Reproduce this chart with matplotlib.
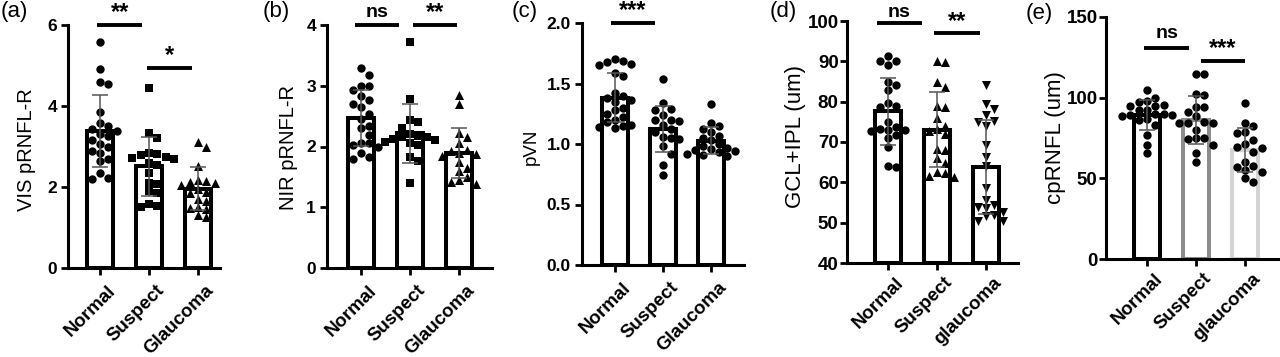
import matplotlib
matplotlib.use('Agg')
import matplotlib.pyplot as plt
import matplotlib.transforms as mtransforms
from matplotlib.ticker import FormatStrFormatter
import numpy as np

plt.rcParams['font.family'] = ['Liberation Sans', 'DejaVu Sans']

groups_abc = ['Normal', 'Suspect', 'Glaucoma']
groups_de = ['Normal', 'Suspect', 'glaucoma']

# (a) VIS pRNFL-R
vis_normal = [5.58, 4.92, 4.6, 4.55, 3.85, 3.57, 3.5, 3.42, 3.38, 3.3, 3.25, 3.15, 3.05, 3.0,
              2.9, 2.85, 2.7, 2.65, 2.35, 2.23, 2.2]
vis_suspect = [4.44, 3.33, 3.2, 2.85, 2.82, 2.78, 2.75, 2.72, 2.7, 2.6, 2.55, 2.35, 2.1, 2.08,
               1.9, 1.85, 1.58, 1.52, 1.5]
vis_glaucoma = [3.12, 3.0, 2.52, 2.17, 2.15, 2.12, 2.1, 2.05, 1.95, 1.88, 1.85, 1.7, 1.65, 1.5,
                1.48, 1.45, 1.3, 1.25]

# (b) NIR pRNFL-R
nir_normal = [3.29, 3.18, 3.0, 3.0, 2.7, 2.93, 2.83, 2.77, 2.65, 2.53, 2.45, 2.33, 2.3, 2.19,
              2.05, 2.05, 2.03, 2.0, 1.89, 1.83, 1.8]
nir_suspect = [3.72, 2.78, 2.43, 2.4, 2.3, 2.2, 2.18, 2.16, 2.15, 2.12, 2.1, 2.08, 2.05, 2.02,
               1.82, 1.76, 1.4]
nir_glaucoma = [2.85, 2.7, 2.23, 2.15, 2.05, 1.95, 1.92, 1.9, 1.88, 1.85, 1.75, 1.65, 1.6, 1.5,
                1.45, 1.42, 1.38]

# (c) pVN
pvn_normal = [1.70, 1.69, 1.68, 1.66, 1.65, 1.59, 1.56, 1.3, 1.35, 1.42, 1.4, 1.38, 1.36, 1.28,
              1.25, 1.22, 1.2, 1.18, 1.16, 1.15, 1.14, 1.13]
pvn_suspect = [1.54, 1.34, 1.29, 1.28, 1.24, 1.2, 1.2, 1.19, 1.16, 1.12, 1.1, 1.06, 1.05, 1.04,
               0.98, 0.92, 0.83, 0.74]
pvn_glaucoma = [1.33, 1.17, 1.15, 1.12, 1.1, 1.07, 1.05, 1.03, 1.0, 0.98, 0.97, 0.96, 0.95, 0.94,
                0.93, 0.92, 0.91, 0.9]

# (d) GCL+IPL (um)
gcl_normal = [91.2, 90.2, 90.0, 89.0, 85.0, 84.1, 82.9, 79.7, 78.9, 78.6, 75.0, 73.8, 73.2, 73.0,
              72.9, 72.8, 71.7, 70.9, 68.8, 64.0, 63.8]
gcl_suspect = [90.0, 89.8, 85.0, 83.7, 79.0, 78.8, 75.9, 74.0, 73.2, 72.8, 72.0, 68.2, 67.9, 66.0,
               64.7, 62.6, 62.4, 61.5, 61.3]
gcl_glaucoma = [84.2, 79.5, 78.2, 76.7, 75.2, 74.9, 74.0, 69.3, 66.4, 64.0, 58.5, 55.6, 54.4, 53.8,
                53.6, 52.6, 51.8, 51.6, 50.5, 50.3]

# (e) cpRNFL (um)
rnfl_normal = [104.5, 100.0, 97.8, 97.2, 95.2, 95.0, 94.6, 92.5, 92.2, 90.0, 89.6, 89.3, 89.0, 88.8,
               86.5, 86.0, 83.0, 77.0, 70.8, 65.5]
rnfl_suspect = [114.8, 114.5, 102.0, 101.5, 94.5, 94.2, 91.3, 88.7, 84.8, 84.6, 84.4, 84.2, 80.0,
                75.0, 74.8, 74.6, 70.7, 65.5, 60.3]
rnfl_glaucoma = [96.5, 84.5, 82.5, 78.5, 78.0, 73.8, 71.3, 69.4, 69.0, 66.5, 60.3, 57.4, 57.0, 55.2,
                 53.8, 50.2, 47.5]

W, H = 1280, 357

panels = [
    dict(letter='(a)', letter_xy=(1, 1), ylabel='VIS pRNFL-R', groups=groups_abc,
         data=[vis_normal, vis_suspect, vis_glaucoma], markers=['o', 's', '^'],
         ylim=(0, 6), yticks=[0, 2, 4, 6], fmt='%d', box=(68, 220, 25, 268), xlim=(-0.653, 2.449),
         tick_fs=12.5, label_fs=14.5, label_xy=(27, 150), pad=3,
         sig=[('**', -0.06, 0.86, 6.0, 4), ('*', 0.96, 1.88, 4.95, 4)], edges=['k', 'k', 'k']),
    dict(letter='(b)', letter_xy=(263, 1), ylabel='NIR pRNFL-R', groups=groups_abc,
         data=[nir_normal, nir_suspect, nir_glaucoma], markers=['o', 's', '^'],
         ylim=(0, 4), yticks=[0, 1, 2, 3, 4], fmt='%d', box=(327, 492, 25, 268), xlim=(-0.694, 2.673),
         tick_fs=12.5, label_fs=14.5, label_xy=(288, 147), pad=3,
         sig=[('ns', -0.12, 0.78, 4.0, 6), ('**', 1.06, 1.96, 4.0, 4)], edges=['k', 'k', 'k']),
    dict(letter='(c)', letter_xy=(512, 1), ylabel='pVN', groups=groups_abc,
         data=[pvn_normal, pvn_suspect, pvn_glaucoma], markers=['o', 'o', 'o'],
         ylim=(0, 2), yticks=[0, 0.5, 1.0, 1.5, 2.0], fmt='%.1f', box=(582, 744, 23, 265),
         xlim=(-0.6875, 2.6875), tick_fs=12.5, label_fs=13.5, label_xy=(531, 147), pad=3,
         sig=[('***', -0.08, 0.83, 2.0, 4)], edges=['k', 'k', 'k']),
    dict(letter='(d)', letter_xy=(770, 1), ylabel='GCL+IPL (um)', groups=groups_de,
         data=[gcl_normal, gcl_suspect, gcl_glaucoma], markers=['o', '^', 'v'],
         ylim=(40, 100), yticks=[40, 50, 60, 70, 80, 90, 100], fmt='%d', box=(847, 1018, 21, 263),
         xlim=(-0.837, 2.653), tick_fs=13.5, label_fs=16, label_xy=(795, 137), pad=1,
         sig=[('ns', -0.23, 0.69, 99.4, 4.5), ('**', 0.94, 1.88, 97.0, 4)], edges=['k', 'k', 'k']),
    dict(letter='(e)', letter_xy=(1026, 3), ylabel='cpRNFL (um)', groups=groups_de,
         data=[rnfl_normal, rnfl_suspect, rnfl_glaucoma], markers=['o', 'o', 'o'],
         ylim=(0, 150), yticks=[0, 50, 100, 150], fmt='%d', box=(1106, 1278, 17, 259),
         xlim=(-0.837, 2.673), tick_fs=13.5, label_fs=16, label_xy=(1056, 138), pad=1,
         sig=[('ns', -0.06, 0.86, 131, 7), ('***', 1.1, 2.0, 123, 4)],
         edges=['k', '#8c8c8c', '#d4d4d4']),
]

marker_size = {'o': 36, 's': 30, '^': 42, 'v': 42}


def swarm(values, ypx_per_unit, xpx_per_unit, step=0.17, sep=8.0):
    # simple beeswarm: place each point at the nearest free slot
    values = np.asarray(values)
    offs = np.zeros(len(values))
    placed = []
    for i in np.argsort(values)[::-1]:
        ypx = values[i] * ypx_per_unit
        for k in [0, 1, -1, 2, -2, 3, -3]:
            x = k * step
            if all(((x - px) * xpx_per_unit) ** 2 + (ypx - py) ** 2 >= sep ** 2 for px, py in placed):
                break
        placed.append((x, ypx))
        offs[i] = x
    return offs


fig = plt.figure(figsize=(12.8, 3.57), dpi=100)

for p in panels:
    l, r, t, b = p['box']
    ax = fig.add_axes([l / W, 1 - b / H, (r - l) / W, (b - t) / H])
    ax.set_xlim(p['xlim'])
    ax.set_ylim(p['ylim'])
    y0 = p['ylim'][0]
    ypx = (b - t) / (p['ylim'][1] - p['ylim'][0])
    xpx = (r - l) / (p['xlim'][1] - p['xlim'][0])

    for i, vals in enumerate(p['data']):
        v = np.asarray(vals)
        m, s = v.mean(), v.std(ddof=1)
        ax.bar(i, m - y0, bottom=y0, width=0.53, color='white', edgecolor=p['edges'][i],
               linewidth=2.9, zorder=1)
        offs = swarm(v, ypx, xpx)
        mk = p['markers'][i]
        ax.scatter(i + offs, v, marker=mk, s=marker_size[mk], c='black', linewidths=0, zorder=3)
        ax.errorbar(i, m, yerr=s, color='#555555', lw=1.1, capsize=6, capthick=1.1, zorder=4)

    for txt, x0, x1, yy, off in p['sig']:
        ax.plot([x0, x1], [yy, yy], color='black', lw=2.8, solid_capstyle='butt', clip_on=False)
        star = '*' in txt
        ax.annotate(txt, xy=((x0 + x1) / 2, yy), xytext=(0, off),
                    textcoords='offset points', ha='center', va='baseline',
                    fontsize=17 if star else 14, fontweight='bold', annotation_clip=False)

    for side in ['top', 'right']:
        ax.spines[side].set_visible(False)
    for side in ['left', 'bottom']:
        ax.spines[side].set_linewidth(2.2)
    ax.tick_params(direction='out', width=2, length=5, pad=p['pad'])
    ax.set_yticks(p['yticks'])
    ax.yaxis.set_major_formatter(FormatStrFormatter(p['fmt']))
    for lbl in ax.get_yticklabels():
        lbl.set_fontsize(p['tick_fs'])
        lbl.set_fontweight('bold')

    ax.set_xticks([0, 1, 2])
    ax.set_xticklabels(p['groups'], rotation=45, ha='right', va='top', rotation_mode='anchor',
                       fontsize=13.5, fontweight='bold')
    shift = mtransforms.ScaledTranslation(5 / 72, -2 / 72, fig.dpi_scale_trans)
    for lbl in ax.get_xticklabels():
        lbl.set_transform(lbl.get_transform() + shift)

    ax.set_ylabel(p['ylabel'], fontsize=p['label_fs'], va='center')
    lx, ly = p['label_xy']
    ax.yaxis.set_label_coords((lx - l) / (r - l), (b - ly) / (b - t))

    fig.text(p['letter_xy'][0] / W, 1 - p['letter_xy'][1] / H, p['letter'], ha='left', va='top',
             fontsize=16)

fig.savefig('out.png', dpi=100)
